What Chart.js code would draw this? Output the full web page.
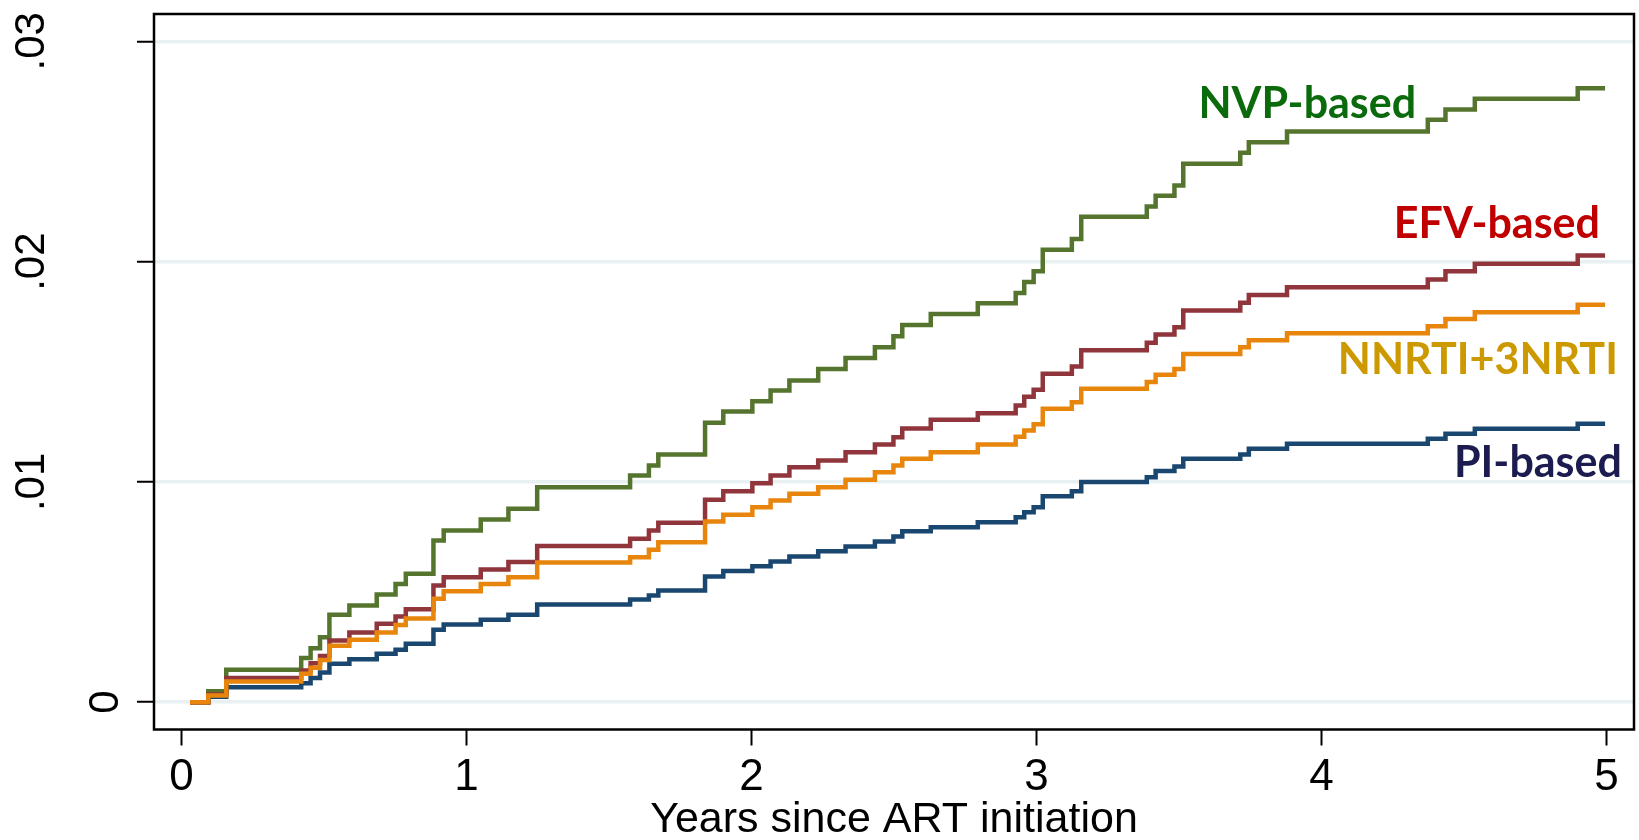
<!DOCTYPE html>
<html><head><meta charset="utf-8">
<script src="https://cdn.jsdelivr.net/npm/chart.js@4/dist/chart.umd.min.js"></script>
<style>html,body{margin:0;padding:0;background:#fff;}#wrap{width:1639px;height:840px;}</style>
</head><body><div id="wrap"><canvas id="c" width="1639" height="840"></canvas></div>
<script>
// ---- data ----
const years = [0.03, 0.094, 0.157, 0.42, 0.453, 0.486, 0.519, 0.589, 0.685, 0.751, 0.787, 0.884, 0.92, 1.05, 1.147, 1.248, 1.574, 1.64, 1.673, 1.837, 1.901, 2.003, 2.067, 2.133, 2.234, 2.33, 2.433, 2.498, 2.529, 2.629, 2.794, 2.927, 2.957, 2.99, 3.022, 3.124, 3.157, 3.387, 3.418, 3.484, 3.515, 3.715, 3.745, 3.879, 4.373, 4.435, 4.538, 4.899, 4.995];
const nvpBased = [0, 0.0005, 0.00147, 0.00201, 0.00245, 0.00295, 0.00397, 0.00439, 0.00489, 0.00537, 0.00583, 0.00734, 0.00779, 0.00829, 0.00878, 0.00976, 0.01029, 0.01074, 0.01124, 0.01268, 0.0132, 0.01366, 0.01415, 0.0146, 0.01512, 0.01562, 0.01611, 0.01661, 0.01712, 0.01762, 0.01811, 0.01858, 0.01907, 0.01956, 0.02054, 0.02103, 0.02204, 0.0225, 0.02299, 0.02345, 0.02444, 0.02494, 0.02542, 0.02591, 0.02644, 0.0269, 0.02739, 0.02787, 0.02787];
const efvBased = [0, 0.00035, 0.0011, 0.00144, 0.00177, 0.0021, 0.0028, 0.00316, 0.00356, 0.00389, 0.00422, 0.0053, 0.00567, 0.00602, 0.00636, 0.00709, 0.00742, 0.00779, 0.00814, 0.00919, 0.00958, 0.00994, 0.01029, 0.01067, 0.01097, 0.01135, 0.0117, 0.01203, 0.01242, 0.01282, 0.01312, 0.01347, 0.01387, 0.01418, 0.01491, 0.01524, 0.01598, 0.01632, 0.01669, 0.01702, 0.01778, 0.01813, 0.01848, 0.01884, 0.01919, 0.01956, 0.0199, 0.02028, 0.02028];
const nnrti3nrti = [0, 0.0003, 0.00094, 0.00129, 0.00156, 0.00192, 0.00256, 0.00283, 0.00316, 0.0035, 0.0038, 0.00469, 0.00504, 0.00537, 0.00567, 0.00634, 0.00658, 0.00692, 0.00726, 0.0082, 0.00851, 0.00885, 0.00916, 0.00946, 0.00976, 0.0101, 0.01044, 0.01074, 0.01105, 0.01135, 0.0117, 0.01205, 0.01233, 0.01262, 0.01332, 0.01362, 0.01423, 0.01453, 0.01486, 0.01513, 0.01581, 0.01611, 0.01643, 0.01675, 0.01707, 0.0174, 0.0177, 0.01804, 0.01804];
const piBased = [0, 0.00025, 0.00068, 0.00086, 0.0011, 0.00135, 0.00174, 0.00195, 0.0022, 0.00238, 0.00265, 0.00329, 0.00353, 0.00374, 0.00397, 0.00443, 0.00466, 0.00484, 0.00507, 0.00571, 0.00595, 0.00617, 0.00639, 0.00661, 0.00685, 0.00707, 0.00729, 0.00752, 0.00776, 0.00794, 0.00817, 0.0084, 0.00862, 0.00885, 0.00935, 0.00957, 0.01, 0.01021, 0.01049, 0.0107, 0.01105, 0.01124, 0.0115, 0.01173, 0.01196, 0.01218, 0.01241, 0.01264, 0.01264];
const seriesNames = ['NNRTI+3NRTI', 'EFV-based', 'NVP-based', 'PI-based'];
const xTicks = [0, 1, 2, 3, 4, 5];
const yTicks = [0, 0.01, 0.02, 0.03];
const yTickLabels = ['0', '.01', '.02', '.03'];
const xTitle = 'Years since ART initiation';

// ---- presentation ----
const lineColors = {'NNRTI+3NRTI': '#e8850c', 'EFV-based': '#90353b', 'NVP-based': '#55752f', 'PI-based': '#1a476f'};
const labelColors = {'NNRTI+3NRTI': '#cc9900', 'EFV-based': '#c00000', 'NVP-based': '#0b6a0b', 'PI-based': '#1c1c50'};
// label placement in data units: right edge (x) and baseline (y)
const labelPlace = {'NVP-based': [4.332, 0.02654], 'EFV-based': [4.977, 0.02109], 'NNRTI+3NRTI': [5.04, 0.01492], 'PI-based': [5.054, 0.0102]};
const seriesValues = {'NNRTI+3NRTI': nnrti3nrti, 'EFV-based': efvBased, 'NVP-based': nvpBased, 'PI-based': piBased};
const SANS = '"Liberation Sans", Arial, Helvetica, sans-serif';

const framePlugin = {
  id: 'frame',
  afterDraw(chart) {
    const {ctx, chartArea: a} = chart;
    ctx.save();
    ctx.strokeStyle = '#000'; ctx.lineWidth = 2.5;
    ctx.strokeRect(a.left, a.top, a.right - a.left, a.bottom - a.top);
    ctx.restore();
  }
};
const yLabelPlugin = {
  id: 'yLabels',
  afterDraw(chart) {
    const s = chart.scales.y, ctx = chart.ctx, left = chart.chartArea.left;
    ctx.save();
    ctx.fillStyle = '#000'; ctx.font = '42px ' + SANS;
    ctx.textAlign = 'center'; ctx.textBaseline = 'alphabetic';
    yTicks.forEach((v, i) => {
      const lab = yTickLabels[i];
      const bx = left - (lab.length === 1 ? 36 : 110);
      ctx.save(); ctx.translate(bx, s.getPixelForValue(v)); ctx.rotate(-Math.PI / 2);
      ctx.fillText(lab, 0, 0); ctx.restore();
    });
    ctx.restore();
  }
};
const seriesLabelPlugin = {
  id: 'seriesLabels',
  afterDraw(chart) {
    const ctx = chart.ctx, sx = chart.scales.x, sy = chart.scales.y;
    ctx.save();
    ctx.font = 'bold 43px Lato, "Open Sans", sans-serif';
    ctx.textAlign = 'right'; ctx.textBaseline = 'alphabetic';
    seriesNames.forEach(n => {
      const p = labelPlace[n];
      ctx.fillStyle = labelColors[n];
      ctx.fillText(n, sx.getPixelForValue(p[0]), sy.getPixelForValue(p[1]));
    });
    ctx.restore();
  }
};

new Chart(document.getElementById('c'), {
  type: 'line',
  data: {
    datasets: seriesNames.map(n => ({
      label: n,
      data: years.map((t, i) => ({x: t, y: seriesValues[n][i]})),
      borderColor: lineColors[n],
      backgroundColor: lineColors[n],
      borderWidth: 4.5,
      stepped: 'before',
      pointRadius: 0,
      fill: false
    }))
  },
  options: {
    responsive: false, animation: false, devicePixelRatio: 1,
    layout: {padding: {top: 14, right: 5, left: 0, bottom: 0}},
    plugins: {legend: {display: false}, tooltip: {enabled: false}, title: {display: false}},
    elements: {line: {borderJoinStyle: 'miter', borderCapStyle: 'butt'}},
    scales: {
      x: {
        type: 'linear', min: -0.0965, max: 5.0965,
        afterBuildTicks: s => { s.ticks = xTicks.map(v => ({value: v})); },
        afterFit: s => { s.height = 110.5; },
        ticks: {color: '#000', font: {family: SANS, size: 44, lineHeight: 1}, padding: 10, maxRotation: 0, minRotation: 0, autoSkip: false, callback: v => String(v)},
        grid: {drawOnChartArea: false, drawTicks: true, tickLength: 16, tickColor: '#000', tickWidth: 2},
        border: {display: false},
        title: {display: true, text: xTitle, color: '#000', font: {family: SANS, size: 43, lineHeight: 1}, padding: {top: 0, bottom: -2}}
      },
      y: {
        type: 'linear', min: -0.00124, max: 0.03124,
        afterBuildTicks: s => { s.ticks = yTicks.map(v => ({value: v})); },
        afterFit: s => { s.width = 154; },
        ticks: {display: false},
        grid: {color: '#e8f0f1', lineWidth: 3.5, drawTicks: true, tickLength: 17, tickColor: '#000', tickWidth: 2},
        border: {display: false}
      }
    }
  },
  plugins: [framePlugin, yLabelPlugin, seriesLabelPlugin]
});
</script>
</body></html>
